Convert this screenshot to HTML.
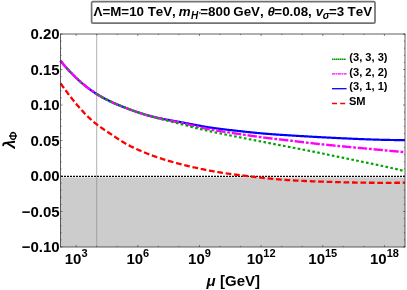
<!DOCTYPE html>
<html><head><meta charset="utf-8">
<style>
html,body{margin:0;padding:0;background:#fff;}
body{width:407px;height:290px;overflow:hidden;}
svg{display:block;will-change:transform;}
text{font-family:"Liberation Sans",sans-serif;font-weight:bold;fill:#000;font-kerning:none;}
.i{font-style:italic;}
</style></head><body>
<svg width="407" height="290" viewBox="0 0 407 290">
<rect x="0" y="0" width="407" height="290" fill="#fff"/>
<!-- shaded region -->
<rect x="60.5" y="177.40" width="344.50" height="69.60" fill="#cccccc"/>
<!-- vertical line at 10^4 -->
<path d="M96.71 34.0 V247.0" stroke="#8c8c8c" stroke-width="0.7" fill="none"/>
<!-- zero line -->
<path d="M60.5 176.30 H405.0" stroke="#000" stroke-width="1.15" stroke-dasharray="2 1" stroke-dashoffset="2.5" fill="none"/>
<!-- curves -->
<g fill="none" stroke-linecap="butt" stroke-linejoin="round">
<path d="M60.50 83.30 L61.50 84.70 L62.50 86.10 L63.50 87.48 L64.50 88.85 L65.50 90.21 L66.50 91.55 L67.50 92.89 L68.50 94.21 L69.50 95.51 L70.50 96.80 L71.50 98.08 L72.50 99.34 L73.50 100.59 L74.50 101.82 L75.50 103.03 L76.50 104.23 L77.50 105.42 L78.50 106.58 L79.50 107.73 L80.50 108.86 L81.50 109.97 L82.50 111.06 L83.50 112.14 L84.50 113.19 L85.50 114.23 L86.50 115.24 L87.50 116.24 L88.50 117.21 L89.50 118.16 L90.50 119.09 L91.50 120.00 L92.50 120.89 L93.50 121.75 L94.50 122.59 L95.50 123.41 L96.50 124.20 L97.50 124.97 L98.50 125.72 L99.50 126.44 L100.50 127.15 L101.50 127.85 L102.50 128.53 L103.50 129.21 L104.50 129.87 L105.50 130.53 L106.50 131.19 L107.50 131.85 L108.50 132.50 L109.50 133.17 L110.50 133.84 L111.50 134.51 L112.50 135.19 L113.50 135.87 L114.50 136.55 L115.50 137.23 L116.50 137.91 L117.50 138.57 L118.50 139.23 L119.50 139.88 L120.50 140.52 L121.50 141.14 L122.50 141.74 L123.50 142.34 L124.50 142.92 L125.50 143.49 L126.50 144.04 L127.50 144.59 L128.50 145.12 L129.50 145.64 L130.50 146.16 L131.50 146.66 L132.50 147.15 L133.50 147.64 L134.50 148.11 L135.50 148.58 L136.50 149.04 L137.50 149.50 L138.50 149.94 L139.50 150.38 L140.50 150.82 L141.50 151.24 L142.50 151.67 L143.50 152.08 L144.50 152.50 L145.50 152.90 L146.50 153.30 L147.50 153.70 L148.50 154.09 L149.50 154.47 L150.50 154.85 L151.50 155.22 L152.50 155.59 L153.50 155.96 L154.50 156.32 L155.50 156.67 L156.50 157.02 L157.50 157.36 L158.50 157.70 L159.50 158.03 L160.50 158.36 L161.50 158.69 L162.50 159.01 L163.50 159.32 L164.50 159.64 L165.50 159.94 L166.50 160.25 L167.50 160.55 L168.50 160.84 L169.50 161.13 L170.50 161.42 L171.50 161.70 L172.50 161.99 L173.50 162.26 L174.50 162.54 L175.50 162.81 L176.50 163.08 L177.50 163.35 L178.50 163.61 L179.50 163.87 L180.50 164.13 L181.50 164.39 L182.50 164.64 L183.50 164.89 L184.50 165.14 L185.50 165.39 L186.50 165.63 L187.50 165.87 L188.50 166.11 L189.50 166.35 L190.50 166.59 L191.50 166.82 L192.50 167.05 L193.50 167.28 L194.50 167.50 L195.50 167.73 L196.50 167.95 L197.50 168.16 L198.50 168.38 L199.50 168.59 L200.50 168.81 L201.50 169.01 L202.50 169.22 L203.50 169.42 L204.50 169.63 L205.50 169.82 L206.50 170.02 L207.50 170.21 L208.50 170.41 L209.50 170.59 L210.50 170.78 L211.50 170.97 L212.50 171.15 L213.50 171.33 L214.50 171.50 L215.50 171.68 L216.50 171.85 L217.50 172.02 L218.50 172.18 L219.50 172.35 L220.50 172.51 L221.50 172.67 L222.50 172.82 L223.50 172.97 L224.50 173.13 L225.50 173.27 L226.50 173.42 L227.50 173.56 L228.50 173.70 L229.50 173.84 L230.50 173.98 L231.50 174.11 L232.50 174.25 L233.50 174.38 L234.50 174.51 L235.50 174.63 L236.50 174.76 L237.50 174.89 L238.50 175.01 L239.50 175.13 L240.50 175.26 L241.50 175.38 L242.50 175.50 L243.50 175.62 L244.50 175.74 L245.50 175.86 L246.50 175.98 L247.50 176.10 L248.50 176.22 L249.50 176.34 L250.50 176.45 L251.50 176.57 L252.50 176.69 L253.50 176.81 L254.50 176.92 L255.50 177.04 L256.50 177.15 L257.50 177.26 L258.50 177.38 L259.50 177.49 L260.50 177.60 L261.50 177.71 L262.50 177.82 L263.50 177.93 L264.50 178.03 L265.50 178.14 L266.50 178.24 L267.50 178.35 L268.50 178.45 L269.50 178.55 L270.50 178.65 L271.50 178.75 L272.50 178.84 L273.50 178.94 L274.50 179.03 L275.50 179.12 L276.50 179.21 L277.50 179.30 L278.50 179.39 L279.50 179.47 L280.50 179.56 L281.50 179.64 L282.50 179.72 L283.50 179.80 L284.50 179.87 L285.50 179.94 L286.50 180.02 L287.50 180.09 L288.50 180.15 L289.50 180.22 L290.50 180.28 L291.50 180.34 L292.50 180.40 L293.50 180.46 L294.50 180.51 L295.50 180.57 L296.50 180.62 L297.50 180.67 L298.50 180.72 L299.50 180.76 L300.50 180.81 L301.50 180.85 L302.50 180.90 L303.50 180.94 L304.50 180.98 L305.50 181.02 L306.50 181.06 L307.50 181.10 L308.50 181.14 L309.50 181.18 L310.50 181.22 L311.50 181.26 L312.50 181.29 L313.50 181.33 L314.50 181.37 L315.50 181.41 L316.50 181.44 L317.50 181.48 L318.50 181.51 L319.50 181.55 L320.50 181.59 L321.50 181.62 L322.50 181.65 L323.50 181.69 L324.50 181.72 L325.50 181.76 L326.50 181.79 L327.50 181.82 L328.50 181.85 L329.50 181.88 L330.50 181.92 L331.50 181.95 L332.50 181.98 L333.50 182.01 L334.50 182.04 L335.50 182.06 L336.50 182.09 L337.50 182.12 L338.50 182.15 L339.50 182.17 L340.50 182.20 L341.50 182.23 L342.50 182.25 L343.50 182.28 L344.50 182.30 L345.50 182.32 L346.50 182.35 L347.50 182.37 L348.50 182.39 L349.50 182.41 L350.50 182.44 L351.50 182.46 L352.50 182.48 L353.50 182.50 L354.50 182.51 L355.50 182.53 L356.50 182.55 L357.50 182.57 L358.50 182.58 L359.50 182.60 L360.50 182.62 L361.50 182.63 L362.50 182.64 L363.50 182.66 L364.50 182.67 L365.50 182.68 L366.50 182.69 L367.50 182.71 L368.50 182.72 L369.50 182.73 L370.50 182.73 L371.50 182.74 L372.50 182.75 L373.50 182.76 L374.50 182.77 L375.50 182.77 L376.50 182.78 L377.50 182.78 L378.50 182.79 L379.50 182.79 L380.50 182.79 L381.50 182.80 L382.50 182.80 L383.50 182.80 L384.50 182.80 L385.50 182.80 L386.50 182.80 L387.50 182.80 L388.50 182.80 L389.50 182.80 L390.50 182.79 L391.50 182.79 L392.50 182.79 L393.50 182.78 L394.50 182.78 L395.50 182.77 L396.50 182.77 L397.50 182.76 L398.50 182.75 L399.50 182.75 L400.50 182.74 L401.50 182.73 L402.50 182.72 L403.50 182.71 L404.50 182.70 L405.00 182.70" stroke="#ff0000" stroke-width="2.3" stroke-dasharray="5.7 2.75" stroke-dashoffset="8.27"/>
<path d="M60.50 60.80 L61.50 62.02 L62.50 63.23 L63.50 64.42 L64.50 65.59 L65.50 66.74 L66.50 67.87 L67.50 68.98 L68.50 70.08 L69.50 71.15 L70.50 72.21 L71.50 73.25 L72.50 74.28 L73.50 75.28 L74.50 76.27 L75.50 77.24 L76.50 78.20 L77.50 79.14 L78.50 80.06 L79.50 80.96 L80.50 81.85 L81.50 82.72 L82.50 83.58 L83.50 84.42 L84.50 85.24 L85.50 86.04 L86.50 86.84 L87.50 87.61 L88.50 88.37 L89.50 89.11 L90.50 89.84 L91.50 90.56 L92.50 91.25 L93.50 91.94 L94.50 92.61 L95.50 93.26 L96.50 93.90 L97.50 94.52 L98.50 95.14 L99.50 95.73 L100.50 96.32 L101.50 96.89 L102.50 97.45 L103.50 97.99 L104.50 98.53 L105.50 99.05 L106.50 99.57 L107.50 100.07 L108.50 100.56 L109.50 101.05 L110.50 101.52 L111.50 101.99 L112.50 102.44 L113.50 102.89 L114.50 103.33 L115.50 103.77 L116.50 104.19 L117.50 104.62 L118.50 105.03 L119.50 105.44 L120.50 105.85 L121.50 106.25 L122.50 106.64 L123.50 107.03 L124.50 107.42 L125.50 107.81 L126.50 108.19 L127.50 108.57 L128.50 108.95 L129.50 109.32 L130.50 109.69 L131.50 110.06 L132.50 110.43 L133.50 110.79 L134.50 111.14 L135.50 111.50 L136.50 111.84 L137.50 112.19 L138.50 112.52 L139.50 112.86 L140.50 113.19 L141.50 113.51 L142.50 113.82 L143.50 114.14 L144.50 114.44 L145.50 114.74 L146.50 115.03 L147.50 115.32 L148.50 115.60 L149.50 115.87 L150.50 116.13 L151.50 116.39 L152.50 116.64 L153.50 116.88 L154.50 117.12 L155.50 117.35 L156.50 117.57 L157.50 117.79 L158.50 118.01 L159.50 118.22 L160.50 118.42 L161.50 118.63 L162.50 118.82 L163.50 119.02 L164.50 119.21 L165.50 119.40 L166.50 119.58 L167.50 119.77 L168.50 119.95 L169.50 120.13 L170.50 120.31 L171.50 120.48 L172.50 120.66 L173.50 120.84 L174.50 121.01 L175.50 121.19 L176.50 121.37 L177.50 121.55 L178.50 121.73 L179.50 121.91 L180.50 122.09 L181.50 122.28 L182.50 122.46 L183.50 122.65 L184.50 122.84 L185.50 123.03 L186.50 123.22 L187.50 123.42 L188.50 123.61 L189.50 123.80 L190.50 123.99 L191.50 124.19 L192.50 124.38 L193.50 124.57 L194.50 124.76 L195.50 124.95 L196.50 125.14 L197.50 125.33 L198.50 125.51 L199.50 125.70 L200.50 125.88 L201.50 126.06 L202.50 126.24 L203.50 126.41 L204.50 126.58 L205.50 126.75 L206.50 126.92 L207.50 127.08 L208.50 127.24 L209.50 127.39 L210.50 127.55 L211.50 127.70 L212.50 127.84 L213.50 127.98 L214.50 128.12 L215.50 128.26 L216.50 128.40 L217.50 128.53 L218.50 128.66 L219.50 128.79 L220.50 128.91 L221.50 129.04 L222.50 129.16 L223.50 129.28 L224.50 129.40 L225.50 129.52 L226.50 129.64 L227.50 129.75 L228.50 129.87 L229.50 129.98 L230.50 130.10 L231.50 130.21 L232.50 130.32 L233.50 130.43 L234.50 130.54 L235.50 130.66 L236.50 130.77 L237.50 130.88 L238.50 130.99 L239.50 131.10 L240.50 131.21 L241.50 131.32 L242.50 131.43 L243.50 131.54 L244.50 131.65 L245.50 131.76 L246.50 131.87 L247.50 131.97 L248.50 132.08 L249.50 132.18 L250.50 132.29 L251.50 132.39 L252.50 132.49 L253.50 132.60 L254.50 132.70 L255.50 132.79 L256.50 132.89 L257.50 132.99 L258.50 133.08 L259.50 133.17 L260.50 133.27 L261.50 133.36 L262.50 133.44 L263.50 133.53 L264.50 133.61 L265.50 133.70 L266.50 133.78 L267.50 133.86 L268.50 133.94 L269.50 134.02 L270.50 134.09 L271.50 134.17 L272.50 134.24 L273.50 134.31 L274.50 134.39 L275.50 134.46 L276.50 134.53 L277.50 134.59 L278.50 134.66 L279.50 134.73 L280.50 134.79 L281.50 134.86 L282.50 134.93 L283.50 134.99 L284.50 135.05 L285.50 135.12 L286.50 135.18 L287.50 135.24 L288.50 135.31 L289.50 135.37 L290.50 135.43 L291.50 135.49 L292.50 135.56 L293.50 135.62 L294.50 135.68 L295.50 135.74 L296.50 135.80 L297.50 135.86 L298.50 135.92 L299.50 135.98 L300.50 136.04 L301.50 136.10 L302.50 136.16 L303.50 136.22 L304.50 136.28 L305.50 136.34 L306.50 136.40 L307.50 136.46 L308.50 136.52 L309.50 136.58 L310.50 136.63 L311.50 136.69 L312.50 136.75 L313.50 136.81 L314.50 136.86 L315.50 136.92 L316.50 136.97 L317.50 137.03 L318.50 137.08 L319.50 137.14 L320.50 137.19 L321.50 137.24 L322.50 137.30 L323.50 137.35 L324.50 137.40 L325.50 137.45 L326.50 137.50 L327.50 137.55 L328.50 137.61 L329.50 137.66 L330.50 137.71 L331.50 137.76 L332.50 137.81 L333.50 137.85 L334.50 137.90 L335.50 137.95 L336.50 138.00 L337.50 138.05 L338.50 138.10 L339.50 138.14 L340.50 138.19 L341.50 138.24 L342.50 138.28 L343.50 138.33 L344.50 138.38 L345.50 138.42 L346.50 138.47 L347.50 138.51 L348.50 138.56 L349.50 138.60 L350.50 138.65 L351.50 138.69 L352.50 138.74 L353.50 138.78 L354.50 138.82 L355.50 138.87 L356.50 138.91 L357.50 138.95 L358.50 138.99 L359.50 139.04 L360.50 139.08 L361.50 139.12 L362.50 139.16 L363.50 139.20 L364.50 139.23 L365.50 139.27 L366.50 139.31 L367.50 139.35 L368.50 139.38 L369.50 139.42 L370.50 139.45 L371.50 139.49 L372.50 139.52 L373.50 139.55 L374.50 139.58 L375.50 139.62 L376.50 139.65 L377.50 139.68 L378.50 139.70 L379.50 139.73 L380.50 139.76 L381.50 139.79 L382.50 139.81 L383.50 139.83 L384.50 139.86 L385.50 139.88 L386.50 139.90 L387.50 139.92 L388.50 139.94 L389.50 139.96 L390.50 139.98 L391.50 139.99 L392.50 140.01 L393.50 140.02 L394.50 140.04 L395.50 140.05 L396.50 140.06 L397.50 140.07 L398.50 140.08 L399.50 140.08 L400.50 140.09 L401.50 140.09 L402.50 140.10 L403.50 140.10 L404.50 140.10 L405.00 140.10" stroke="#0000ff" stroke-width="2.2"/>
<path d="M60.50 60.80 L61.50 62.03 L62.50 63.23 L63.50 64.42 L64.50 65.59 L65.50 66.74 L66.50 67.87 L67.50 68.99 L68.50 70.08 L69.50 71.16 L70.50 72.22 L71.50 73.26 L72.50 74.28 L73.50 75.29 L74.50 76.28 L75.50 77.25 L76.50 78.20 L77.50 79.14 L78.50 80.06 L79.50 80.96 L80.50 81.85 L81.50 82.72 L82.50 83.57 L83.50 84.41 L84.50 85.23 L85.50 86.04 L86.50 86.83 L87.50 87.60 L88.50 88.36 L89.50 89.11 L90.50 89.84 L91.50 90.55 L92.50 91.25 L93.50 91.93 L94.50 92.60 L95.50 93.26 L96.50 93.90" stroke="#00a500" stroke-width="2.2" stroke-dasharray="2.5 2.3"/>
<path d="M60.50 60.80 L61.50 62.02 L62.50 63.23 L63.50 64.42 L64.50 65.59 L65.50 66.74 L66.50 67.87 L67.50 68.98 L68.50 70.08 L69.50 71.15 L70.50 72.21 L71.50 73.25 L72.50 74.28 L73.50 75.28 L74.50 76.27 L75.50 77.25 L76.50 78.20 L77.50 79.14 L78.50 80.06 L79.50 80.96 L80.50 81.85 L81.50 82.72 L82.50 83.58 L83.50 84.41 L84.50 85.24 L85.50 86.04 L86.50 86.83 L87.50 87.61 L88.50 88.37 L89.50 89.11 L90.50 89.84 L91.50 90.55 L92.50 91.25 L93.50 91.94 L94.50 92.61 L95.50 93.26 L96.50 93.90" stroke="#ff00ff" stroke-width="2.4" stroke-dasharray="9.5 1.8 2.8 1.8"/>
<path d="M96.50 93.90 L97.50 94.53 L98.50 95.14 L99.50 95.74 L100.50 96.32 L101.50 96.89 L102.50 97.45 L103.50 98.00 L104.50 98.54 L105.50 99.06 L106.50 99.57 L107.50 100.08 L108.50 100.57 L109.50 101.06 L110.50 101.53 L111.50 102.00 L112.50 102.45 L113.50 102.90 L114.50 103.34 L115.50 103.78 L116.50 104.21 L117.50 104.63 L118.50 105.04 L119.50 105.45 L120.50 105.86 L121.50 106.25 L122.50 106.65 L123.50 107.04 L124.50 107.43 L125.50 107.81 L126.50 108.19 L127.50 108.57 L128.50 108.94 L129.50 109.31 L130.50 109.68 L131.50 110.05 L132.50 110.41 L133.50 110.77 L134.50 111.12 L135.50 111.47 L136.50 111.81 L137.50 112.16 L138.50 112.49 L139.50 112.82 L140.50 113.15 L141.50 113.47 L142.50 113.79 L143.50 114.11 L144.50 114.41 L145.50 114.71 L146.50 115.01 L147.50 115.30 L148.50 115.58 L149.50 115.86 L150.50 116.14 L151.50 116.40 L152.50 116.66 L153.50 116.92 L154.50 117.17 L155.50 117.41 L156.50 117.65 L157.50 117.89 L158.50 118.12 L159.50 118.35 L160.50 118.57 L161.50 118.79 L162.50 119.01 L163.50 119.23 L164.50 119.44 L165.50 119.65 L166.50 119.86 L167.50 120.07 L168.50 120.28 L169.50 120.49 L170.50 120.70 L171.50 120.90 L172.50 121.11 L173.50 121.32 L174.50 121.53 L175.50 121.73 L176.50 121.95 L177.50 122.16 L178.50 122.37 L179.50 122.59 L180.50 122.81 L181.50 123.03 L182.50 123.26 L183.50 123.48 L184.50 123.71 L185.50 123.94 L186.50 124.17 L187.50 124.41 L188.50 124.64 L189.50 124.88 L190.50 125.11 L191.50 125.34 L192.50 125.58 L193.50 125.81 L194.50 126.05 L195.50 126.28 L196.50 126.51 L197.50 126.74 L198.50 126.97 L199.50 127.19 L200.50 127.42 L201.50 127.64 L202.50 127.86 L203.50 128.07 L204.50 128.28 L205.50 128.49 L206.50 128.70 L207.50 128.90 L208.50 129.10 L209.50 129.29 L210.50 129.48 L211.50 129.67 L212.50 129.85 L213.50 130.03 L214.50 130.20 L215.50 130.38 L216.50 130.55 L217.50 130.71 L218.50 130.88 L219.50 131.04 L220.50 131.20 L221.50 131.36 L222.50 131.52 L223.50 131.68 L224.50 131.83 L225.50 131.98 L226.50 132.13 L227.50 132.28 L228.50 132.43 L229.50 132.58 L230.50 132.73 L231.50 132.88 L232.50 133.03 L233.50 133.18 L234.50 133.33 L235.50 133.47 L236.50 133.62 L237.50 133.77 L238.50 133.92 L239.50 134.07 L240.50 134.22 L241.50 134.37 L242.50 134.52 L243.50 134.67 L244.50 134.82 L245.50 134.97 L246.50 135.12 L247.50 135.26 L248.50 135.41 L249.50 135.56 L250.50 135.70 L251.50 135.85 L252.50 135.99 L253.50 136.14 L254.50 136.28 L255.50 136.42 L256.50 136.56 L257.50 136.70 L258.50 136.83 L259.50 136.97 L260.50 137.10 L261.50 137.23 L262.50 137.37 L263.50 137.49 L264.50 137.62 L265.50 137.75 L266.50 137.87 L267.50 137.99 L268.50 138.12 L269.50 138.24 L270.50 138.36 L271.50 138.47 L272.50 138.59 L273.50 138.71 L274.50 138.82 L275.50 138.94 L276.50 139.06 L277.50 139.17 L278.50 139.28 L279.50 139.40 L280.50 139.51 L281.50 139.62 L282.50 139.74 L283.50 139.85 L284.50 139.97 L285.50 140.08 L286.50 140.19 L287.50 140.31 L288.50 140.43 L289.50 140.54 L290.50 140.66 L291.50 140.78 L292.50 140.89 L293.50 141.01 L294.50 141.13 L295.50 141.25 L296.50 141.37 L297.50 141.49 L298.50 141.61 L299.50 141.74 L300.50 141.86 L301.50 141.98 L302.50 142.10 L303.50 142.22 L304.50 142.34 L305.50 142.46 L306.50 142.58 L307.50 142.70 L308.50 142.82 L309.50 142.94 L310.50 143.05 L311.50 143.17 L312.50 143.29 L313.50 143.40 L314.50 143.52 L315.50 143.63 L316.50 143.74 L317.50 143.86 L318.50 143.97 L319.50 144.07 L320.50 144.18 L321.50 144.29 L322.50 144.40 L323.50 144.50 L324.50 144.60 L325.50 144.71 L326.50 144.81 L327.50 144.91 L328.50 145.01 L329.50 145.11 L330.50 145.21 L331.50 145.31 L332.50 145.41 L333.50 145.51 L334.50 145.60 L335.50 145.70 L336.50 145.80 L337.50 145.89 L338.50 145.99 L339.50 146.08 L340.50 146.18 L341.50 146.27 L342.50 146.36 L343.50 146.46 L344.50 146.55 L345.50 146.65 L346.50 146.74 L347.50 146.83 L348.50 146.93 L349.50 147.02 L350.50 147.12 L351.50 147.21 L352.50 147.30 L353.50 147.40 L354.50 147.49 L355.50 147.58 L356.50 147.68 L357.50 147.77 L358.50 147.86 L359.50 147.96 L360.50 148.05 L361.50 148.14 L362.50 148.24 L363.50 148.33 L364.50 148.42 L365.50 148.52 L366.50 148.61 L367.50 148.70 L368.50 148.80 L369.50 148.89 L370.50 148.98 L371.50 149.07 L372.50 149.17 L373.50 149.26 L374.50 149.35 L375.50 149.45 L376.50 149.54 L377.50 149.63 L378.50 149.73 L379.50 149.82 L380.50 149.91 L381.50 150.00 L382.50 150.10 L383.50 150.19 L384.50 150.28 L385.50 150.38 L386.50 150.47 L387.50 150.56 L388.50 150.66 L389.50 150.75 L390.50 150.84 L391.50 150.94 L392.50 151.03 L393.50 151.12 L394.50 151.22 L395.50 151.31 L396.50 151.40 L397.50 151.50 L398.50 151.59 L399.50 151.68 L400.50 151.78 L401.50 151.87 L402.50 151.97 L403.50 152.06 L404.50 152.15 L405.00 152.20" stroke="#ff00ff" stroke-width="2.4" stroke-dasharray="9.45 1.8 2.8 1.8" stroke-dashoffset="0.98"/>
<path d="M96.50 93.90 L97.50 94.53 L98.50 95.14 L99.50 95.74 L100.50 96.33 L101.50 96.90 L102.50 97.46 L103.50 98.01 L104.50 98.55 L105.50 99.08 L106.50 99.59 L107.50 100.10 L108.50 100.59 L109.50 101.08 L110.50 101.56 L111.50 102.02 L112.50 102.48 L113.50 102.93 L114.50 103.37 L115.50 103.81 L116.50 104.24 L117.50 104.66 L118.50 105.07 L119.50 105.48 L120.50 105.88 L121.50 106.27 L122.50 106.67 L123.50 107.05 L124.50 107.43 L125.50 107.81 L126.50 108.19 L127.50 108.56 L128.50 108.92 L129.50 109.29 L130.50 109.65 L131.50 110.01 L132.50 110.36 L133.50 110.71 L134.50 111.06 L135.50 111.40 L136.50 111.74 L137.50 112.08 L138.50 112.41 L139.50 112.74 L140.50 113.07 L141.50 113.39 L142.50 113.71 L143.50 114.03 L144.50 114.34 L145.50 114.65 L146.50 114.95 L147.50 115.26 L148.50 115.56 L149.50 115.85 L150.50 116.15 L151.50 116.44 L152.50 116.72 L153.50 117.01 L154.50 117.29 L155.50 117.57 L156.50 117.84 L157.50 118.11 L158.50 118.39 L159.50 118.65 L160.50 118.92 L161.50 119.19 L162.50 119.45 L163.50 119.71 L164.50 119.97 L165.50 120.23 L166.50 120.49 L167.50 120.74 L168.50 121.00 L169.50 121.25 L170.50 121.50 L171.50 121.76 L172.50 122.01 L173.50 122.26 L174.50 122.51 L175.50 122.76 L176.50 123.02 L177.50 123.27 L178.50 123.52 L179.50 123.77 L180.50 124.03 L181.50 124.28 L182.50 124.53 L183.50 124.79 L184.50 125.04 L185.50 125.30 L186.50 125.55 L187.50 125.81 L188.50 126.06 L189.50 126.32 L190.50 126.57 L191.50 126.83 L192.50 127.08 L193.50 127.33 L194.50 127.58 L195.50 127.83 L196.50 128.08 L197.50 128.33 L198.50 128.58 L199.50 128.82 L200.50 129.06 L201.50 129.31 L202.50 129.55 L203.50 129.78 L204.50 130.02 L205.50 130.25 L206.50 130.49 L207.50 130.71 L208.50 130.94 L209.50 131.17 L210.50 131.39 L211.50 131.61 L212.50 131.83 L213.50 132.04 L214.50 132.26 L215.50 132.47 L216.50 132.68 L217.50 132.89 L218.50 133.10 L219.50 133.31 L220.50 133.51 L221.50 133.72 L222.50 133.92 L223.50 134.12 L224.50 134.32 L225.50 134.52 L226.50 134.72 L227.50 134.92 L228.50 135.12 L229.50 135.32 L230.50 135.51 L231.50 135.71 L232.50 135.91 L233.50 136.11 L234.50 136.30 L235.50 136.50 L236.50 136.70 L237.50 136.89 L238.50 137.09 L239.50 137.29 L240.50 137.48 L241.50 137.68 L242.50 137.88 L243.50 138.07 L244.50 138.27 L245.50 138.47 L246.50 138.66 L247.50 138.86 L248.50 139.06 L249.50 139.25 L250.50 139.45 L251.50 139.65 L252.50 139.84 L253.50 140.04 L254.50 140.23 L255.50 140.43 L256.50 140.63 L257.50 140.82 L258.50 141.02 L259.50 141.21 L260.50 141.41 L261.50 141.60 L262.50 141.80 L263.50 141.99 L264.50 142.19 L265.50 142.38 L266.50 142.57 L267.50 142.77 L268.50 142.96 L269.50 143.15 L270.50 143.35 L271.50 143.54 L272.50 143.73 L273.50 143.93 L274.50 144.12 L275.50 144.31 L276.50 144.50 L277.50 144.70 L278.50 144.89 L279.50 145.08 L280.50 145.27 L281.50 145.47 L282.50 145.66 L283.50 145.85 L284.50 146.04 L285.50 146.23 L286.50 146.43 L287.50 146.62 L288.50 146.81 L289.50 147.00 L290.50 147.20 L291.50 147.39 L292.50 147.58 L293.50 147.77 L294.50 147.97 L295.50 148.16 L296.50 148.35 L297.50 148.55 L298.50 148.74 L299.50 148.94 L300.50 149.13 L301.50 149.33 L302.50 149.52 L303.50 149.72 L304.50 149.91 L305.50 150.11 L306.50 150.30 L307.50 150.50 L308.50 150.70 L309.50 150.90 L310.50 151.10 L311.50 151.29 L312.50 151.49 L313.50 151.69 L314.50 151.90 L315.50 152.10 L316.50 152.30 L317.50 152.50 L318.50 152.70 L319.50 152.91 L320.50 153.11 L321.50 153.32 L322.50 153.52 L323.50 153.73 L324.50 153.94 L325.50 154.14 L326.50 154.35 L327.50 154.56 L328.50 154.76 L329.50 154.97 L330.50 155.18 L331.50 155.39 L332.50 155.60 L333.50 155.81 L334.50 156.01 L335.50 156.22 L336.50 156.43 L337.50 156.64 L338.50 156.85 L339.50 157.06 L340.50 157.27 L341.50 157.47 L342.50 157.68 L343.50 157.89 L344.50 158.10 L345.50 158.30 L346.50 158.51 L347.50 158.72 L348.50 158.92 L349.50 159.13 L350.50 159.33 L351.50 159.54 L352.50 159.74 L353.50 159.95 L354.50 160.15 L355.50 160.36 L356.50 160.56 L357.50 160.77 L358.50 160.97 L359.50 161.18 L360.50 161.39 L361.50 161.59 L362.50 161.80 L363.50 162.00 L364.50 162.21 L365.50 162.42 L366.50 162.62 L367.50 162.83 L368.50 163.04 L369.50 163.25 L370.50 163.45 L371.50 163.66 L372.50 163.87 L373.50 164.08 L374.50 164.29 L375.50 164.51 L376.50 164.72 L377.50 164.93 L378.50 165.14 L379.50 165.36 L380.50 165.57 L381.50 165.79 L382.50 166.01 L383.50 166.23 L384.50 166.44 L385.50 166.66 L386.50 166.89 L387.50 167.11 L388.50 167.33 L389.50 167.55 L390.50 167.78 L391.50 168.01 L392.50 168.23 L393.50 168.46 L394.50 168.69 L395.50 168.93 L396.50 169.16 L397.50 169.39 L398.50 169.63 L399.50 169.87 L400.50 170.11 L401.50 170.35 L402.50 170.59 L403.50 170.83 L404.50 171.08 L405.00 171.20" stroke="#00a500" stroke-width="2.2" stroke-dasharray="2.6 2.38" stroke-dashoffset="4.79"/>
</g>
<!-- frame -->
<rect x="60.5" y="34.0" width="344.50" height="213.00" fill="none" stroke="#2b2b2b" stroke-width="0.75"/>
<g stroke="#2b2b2b" stroke-width="0.55" fill="none">
<path d="M76.16 247.0 v-2.0 M76.16 34.0 v2.0"/><path d="M96.71 247.0 v-1.1 M96.71 34.0 v1.1"/><path d="M117.27 247.0 v-1.1 M117.27 34.0 v1.1"/><path d="M137.82 247.0 v-2.0 M137.82 34.0 v2.0"/><path d="M158.37 247.0 v-1.1 M158.37 34.0 v1.1"/><path d="M178.92 247.0 v-1.1 M178.92 34.0 v1.1"/><path d="M199.48 247.0 v-2.0 M199.48 34.0 v2.0"/><path d="M220.03 247.0 v-1.1 M220.03 34.0 v1.1"/><path d="M240.58 247.0 v-1.1 M240.58 34.0 v1.1"/><path d="M261.13 247.0 v-2.0 M261.13 34.0 v2.0"/><path d="M281.69 247.0 v-1.1 M281.69 34.0 v1.1"/><path d="M302.24 247.0 v-1.1 M302.24 34.0 v1.1"/><path d="M322.79 247.0 v-2.0 M322.79 34.0 v2.0"/><path d="M343.34 247.0 v-1.1 M343.34 34.0 v1.1"/><path d="M363.90 247.0 v-1.1 M363.90 34.0 v1.1"/><path d="M384.45 247.0 v-2.0 M384.45 34.0 v2.0"/><path d="M405.00 247.0 v-1.1 M405.00 34.0 v1.1"/>
<path d="M60.5 247.00 h2.0 M405.0 247.00 h-2.0"/><path d="M60.5 239.90 h1.1 M405.0 239.90 h-1.1"/><path d="M60.5 232.80 h1.1 M405.0 232.80 h-1.1"/><path d="M60.5 225.70 h1.1 M405.0 225.70 h-1.1"/><path d="M60.5 218.60 h1.1 M405.0 218.60 h-1.1"/><path d="M60.5 211.50 h2.0 M405.0 211.50 h-2.0"/><path d="M60.5 204.40 h1.1 M405.0 204.40 h-1.1"/><path d="M60.5 197.30 h1.1 M405.0 197.30 h-1.1"/><path d="M60.5 190.20 h1.1 M405.0 190.20 h-1.1"/><path d="M60.5 183.10 h1.1 M405.0 183.10 h-1.1"/><path d="M60.5 176.00 h2.0 M405.0 176.00 h-2.0"/><path d="M60.5 168.90 h1.1 M405.0 168.90 h-1.1"/><path d="M60.5 161.80 h1.1 M405.0 161.80 h-1.1"/><path d="M60.5 154.70 h1.1 M405.0 154.70 h-1.1"/><path d="M60.5 147.60 h1.1 M405.0 147.60 h-1.1"/><path d="M60.5 140.50 h2.0 M405.0 140.50 h-2.0"/><path d="M60.5 133.40 h1.1 M405.0 133.40 h-1.1"/><path d="M60.5 126.30 h1.1 M405.0 126.30 h-1.1"/><path d="M60.5 119.20 h1.1 M405.0 119.20 h-1.1"/><path d="M60.5 112.10 h1.1 M405.0 112.10 h-1.1"/><path d="M60.5 105.00 h2.0 M405.0 105.00 h-2.0"/><path d="M60.5 97.90 h1.1 M405.0 97.90 h-1.1"/><path d="M60.5 90.80 h1.1 M405.0 90.80 h-1.1"/><path d="M60.5 83.70 h1.1 M405.0 83.70 h-1.1"/><path d="M60.5 76.60 h1.1 M405.0 76.60 h-1.1"/><path d="M60.5 69.50 h2.0 M405.0 69.50 h-2.0"/><path d="M60.5 62.40 h1.1 M405.0 62.40 h-1.1"/><path d="M60.5 55.30 h1.1 M405.0 55.30 h-1.1"/><path d="M60.5 48.20 h1.1 M405.0 48.20 h-1.1"/><path d="M60.5 41.10 h1.1 M405.0 41.10 h-1.1"/><path d="M60.5 34.00 h2.0 M405.0 34.00 h-2.0"/>
</g>
<!-- tick labels -->
<text x="76.16" y="263.9" text-anchor="middle" font-size="15">10<tspan font-size="11" dy="-6.9">3</tspan></text><text x="137.82" y="263.9" text-anchor="middle" font-size="15">10<tspan font-size="11" dy="-6.9">6</tspan></text><text x="199.48" y="263.9" text-anchor="middle" font-size="15">10<tspan font-size="11" dy="-6.9">9</tspan></text><text x="261.13" y="263.9" text-anchor="middle" font-size="15">10<tspan font-size="11" dy="-6.9">12</tspan></text><text x="322.79" y="263.9" text-anchor="middle" font-size="15">10<tspan font-size="11" dy="-6.9">15</tspan></text><text x="384.45" y="263.9" text-anchor="middle" font-size="15">10<tspan font-size="11" dy="-6.9">18</tspan></text>
<text x="59.6" y="252.20" text-anchor="end" font-size="15">−0.10</text><text x="59.6" y="216.70" text-anchor="end" font-size="15">−0.05</text><text x="59.6" y="181.20" text-anchor="end" font-size="15">0.00</text><text x="59.6" y="145.70" text-anchor="end" font-size="15">0.05</text><text x="59.6" y="110.20" text-anchor="end" font-size="15">0.10</text><text x="59.6" y="74.70" text-anchor="end" font-size="15">0.15</text><text x="59.6" y="39.20" text-anchor="end" font-size="15">0.20</text>
<!-- axis labels -->
<text x="206.4" y="286" font-size="15"><tspan class="i">μ</tspan> <tspan dx="0.4">[GeV]</tspan></text>
<text transform="translate(15,148.6) rotate(-90)" font-size="16"><tspan class="i">λ</tspan><tspan font-size="11" dy="2.0" dx="-0.8">Φ</tspan></text>
<!-- title -->
<rect x="91.6" y="1.6" width="283.4" height="21.6" rx="1.3" fill="#fff" stroke="#727272" stroke-width="1.7"/>
<text x="93.6" y="16.4" font-size="13.33">Λ=M=10 TeV, <tspan class="i" dx="-0.7">m</tspan><tspan font-size="10" dy="2.2" class="i" dx="0.2">H</tspan><tspan font-size="7" dy="-2" dx="0.9">′</tspan><tspan dy="-0.2" dx="-0.4">=800</tspan> <tspan dx="-0.7">GeV</tspan>, <tspan class="i" dx="0">θ</tspan><tspan dx="-0.5">=0.08,</tspan> <tspan class="i" dx="0.3">v</tspan><tspan font-size="10" dy="2.6" class="i" dx="-0.5">σ</tspan><tspan dy="-2.6" dx="-0.3">=3</tspan> <tspan dx="-0.4">TeV</tspan></text>
<!-- legend -->
<g fill="none" stroke-width="1.3">
<path d="M332 59.25 H346" stroke="#009a00" stroke-dasharray="1.6 0.4"/>
<path d="M332 73.8 H346.6" stroke="#ff00ff" stroke-dasharray="3.4 0.5 1.4 0.5"/>
<path d="M332 88.7 H346.6" stroke="#0000ff"/>
<path d="M332 103.5 H346" stroke="#ff0000" stroke-dasharray="5 3.2"/>
</g>
<g font-size="11.1">
<text x="349.3" y="61.3">(3, 3, 3)</text>
<text x="349.3" y="76.0">(3, 2, 2)</text>
<text x="349.3" y="90.4">(3, 1, 1)</text>
<text x="348.9" y="105.0">SM</text>
</g>
</svg>
</body></html>
